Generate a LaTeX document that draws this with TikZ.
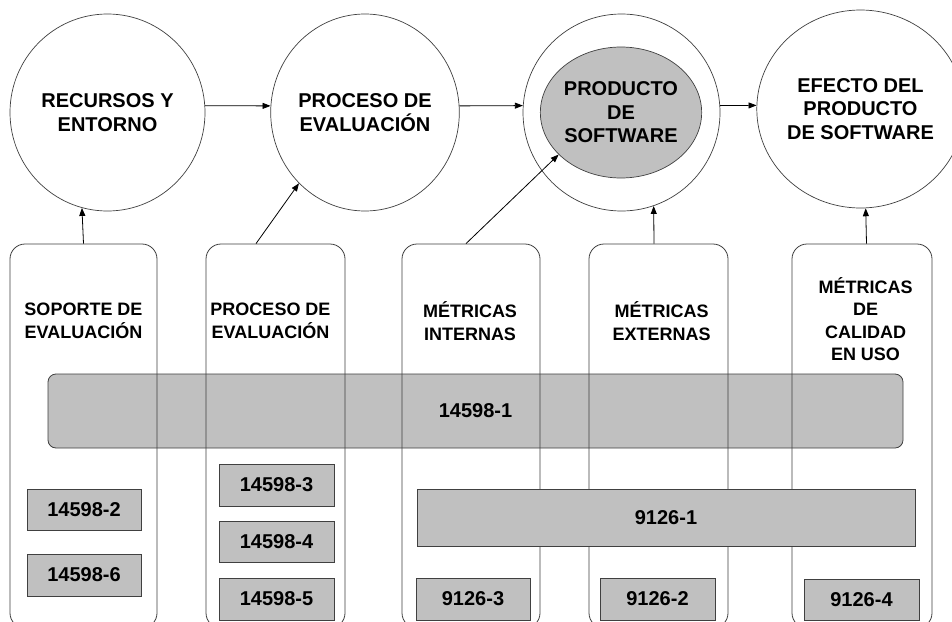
\documentclass[tikz,border=0pt]{standalone}
\usepackage{fontspec}
\setmainfont{Liberation Sans}
\usetikzlibrary{shapes.geometric,arrows.meta}
\definecolor{boxgray}{HTML}{C0C0C0}
\definecolor{edge}{HTML}{404040}
\begin{document}
\begin{tikzpicture}[x=1pt,y=-1pt,
  circ/.style={draw=edge, line width=0.7pt, ellipse, inner sep=0pt, align=center,
    font=\fontsize{20}{23.5}\selectfont\bfseries},
  column/.style={draw=edge, line width=0.8pt, rectangle, rounded corners=15pt, inner sep=0pt},
  band/.style={draw=edge, fill=boxgray, line width=0.8pt, rectangle, inner sep=0pt,
    font=\fontsize{20}{24}\selectfont\bfseries},
  codebox/.style={band, minimum width=115pt, minimum height=42pt},
  lab/.style={align=center, inner sep=0pt, font=\fontsize{18}{22.5}\selectfont\bfseries},
  link/.style={draw=black, line width=0.8pt, -{Triangle[length=8pt,width=6pt]}}
]
\clip (0,0) rectangle (952,621);
\fill[white] (0,0) rectangle (952,621);

% top row of stages
\node[circ, minimum width=195pt, minimum height=197pt] (c1) at (107.5,112.5) {RECURSOS Y\\ENTORNO};
\node[circ, minimum width=187pt, minimum height=197pt] (c2) at (365,112.5) {PROCESO DE\\EVALUACIÓN};
\node[circ, minimum width=197pt, minimum height=197pt] (c3) at (621.5,112.5) {};
\node[circ, fill=boxgray, minimum width=142pt, minimum height=131pt] (c3in) at (621,112.5) {PRODUCTO\\DE\\SOFTWARE};
\node[circ, minimum width=185pt, minimum height=198pt] (c4) at (860.5,109) {EFECTO DEL\\PRODUCTO\\DE SOFTWARE};

\draw[link] (c1.4) -- (c2.176);
\draw[link] (c2.4) -- (c3.176);
\draw[link] (c3.4) -- (c4.178);

% wide rounded band behind the columns
\node[band, rounded corners=8pt, minimum width=855pt, minimum height=74pt] (s1) at (475.5,411) {14598-1};

% columns
\node[column, minimum width=147pt, minimum height=384pt] (col1) at (83.5,436) {};
\node[column, minimum width=139pt, minimum height=384pt] (col2) at (275.5,436) {};
\node[column, minimum width=138pt, minimum height=384pt] (col3) at (471,436) {};
\node[column, minimum width=139pt, minimum height=384pt] (col4) at (658.5,436) {};
\node[column, minimum width=140pt, minimum height=384pt] (col5) at (862,436) {};

\node[lab] (l1) at (83.5,321) {SOPORTE DE\\EVALUACIÓN};
\node[lab] (l2) at (270.5,321) {PROCESO DE\\EVALUACIÓN};
\node[lab] (l3) at (470,321) {MÉTRICAS\\INTERNAS};
\node[lab] (l4) at (661.5,321) {MÉTRICAS\\EXTERNAS};
\node[lab] (l5) at (865.5,319) {MÉTRICAS\\DE\\CALIDAD\\EN USO};

% arrows from columns up to the stages
\draw[link] (col1.north) -- (c1.255.5);
\draw[link] ([xshift=-19.5pt]col2.north) -- (c2.227.6);
\draw[link] ([xshift=-5pt]col3.north) -- (c3in.214);
\draw[link] ([xshift=-4.5pt]col4.north) -- (c3.289.3);
\draw[link] ([xshift=4.5pt]col5.north) -- (c4.273.5);

% opaque band over the metric columns
\node[band, minimum width=498pt, minimum height=57pt] (s9) at (666,517.5) {9126-1};

% standard parts
\node[codebox, minimum width=114pt, minimum height=41pt] (b2) at (84,509.5) {14598-2};
\node[codebox, minimum width=114pt] (b6) at (84,575) {14598-6};
\node[codebox] (b3) at (276.5,485) {14598-3};
\node[codebox, minimum height=41pt] (b4) at (276.5,542) {14598-4};
\node[codebox] (b5) at (276.5,599) {14598-5};
\node[codebox, minimum width=114pt] (m3) at (473,599) {9126-3};
\node[codebox] (m2) at (657.5,599) {9126-2};
\node[codebox, minimum height=41pt] (m4) at (861.5,599.5) {9126-4};
\end{tikzpicture}
\end{document}
